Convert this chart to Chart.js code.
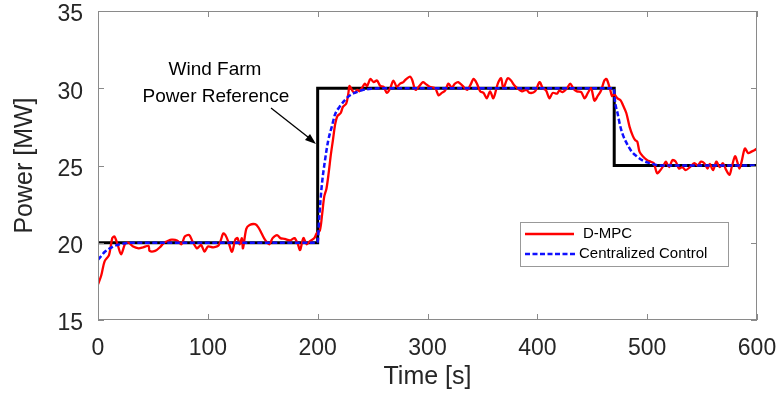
<!DOCTYPE html>
<html>
<head>
<meta charset="utf-8">
<script src="https://cdn.jsdelivr.net/npm/chart.js@4.4.1/dist/chart.umd.min.js"></script>
<style>
    html, body { margin: 0; padding: 0; background: #fff; }
    #wrap { width: 782px; height: 393px; }
</style>
</head>
<body>
<div id="wrap"><canvas id="powerChart" width="782" height="393"></canvas></div>
<script>
// Wind farm power reference (step)
const refTime = [0, 200, 200, 470, 470, 600];
const refPower = [20, 20, 30, 30, 25, 25];

// D-MPC response
const dmpcTime = [0, 3, 6, 10, 13, 15, 18, 21, 25, 28, 32, 37, 41, 46, 47, 52, 57, 60, 63, 67, 72, 76, 79, 83, 86, 90, 92, 94, 97, 100,
    105, 110, 114, 116, 119, 122, 125, 127, 129, 131, 132, 135, 138, 143, 146, 149, 152, 156, 159, 163, 166, 170, 175, 179, 182, 184, 187, 190, 193, 197,
    199, 202, 204, 206, 208, 210, 212, 214, 216, 218, 221, 223, 226, 228, 229, 232, 234, 236, 238, 241, 243, 245, 248, 251, 254, 257, 260, 263, 266, 269,
    272, 275, 278, 280, 284, 286, 289, 292, 296, 298, 302, 307, 310, 313, 316, 319, 322, 325, 328, 332, 336, 339, 342, 345, 348, 351, 354, 357, 360, 364,
    367, 369, 373, 376, 379, 382, 386, 390, 393, 398, 402, 405, 408, 411, 414, 418, 420, 423, 427, 430, 433, 436, 440, 443, 446, 449, 452, 455, 458, 461,
    463, 466, 468, 470, 473, 476, 478, 481, 484, 487, 489, 491, 493, 496, 500, 503, 506, 509, 512, 515, 517, 520, 523, 526, 529, 532, 535, 539, 543, 546,
    549, 552, 555, 557, 560, 563, 566, 569, 572, 575, 577, 580, 582, 584, 586, 589, 592, 595, 598, 600];
const dmpcPower = [17.3, 17.9, 18.8, 19.2, 20.3, 20.4, 19.85, 19.25, 19.97, 20.0, 19.75, 19.64, 19.7, 19.8, 19.47, 19.47, 19.75, 20.0, 20.1, 20.2, 20.15, 19.9, 20.4, 20.5, 20.1, 19.64, 19.75, 19.85, 19.42, 19.75,
    19.7, 19.85, 20.6, 20.5, 20.0, 19.42, 20.2, 20.3, 19.9, 20.3, 19.64, 20.9, 21.15, 21.2, 21.0, 20.6, 20.2, 19.9, 20.3, 20.5, 20.3, 20.25, 20.15, 20.3, 19.9, 19.53, 20.3, 19.9, 20.1, 20.3,
    20.6, 20.8, 21.8, 23.0, 23.5, 24.5, 25.7, 26.7, 27.7, 28.2, 28.4, 28.8, 29.0, 29.7, 30.15, 29.8, 29.7, 29.9, 29.8, 30.1, 30.3, 30.15, 30.6, 30.4, 30.5, 30.15, 30.1, 29.7, 30.0, 30.5,
    30.1, 30.3, 30.4, 30.55, 30.75, 30.55, 29.9, 30.1, 30.4, 30.3, 30.1, 30.0, 29.55, 29.7, 29.85, 30.3, 30.05, 30.3, 30.4, 30.15, 29.9, 30.2, 30.6, 30.3, 29.8, 29.7, 29.35, 29.8, 29.35, 30.3,
    30.65, 30.0, 30.65, 30.5, 30.2, 30.0, 29.8, 29.9, 29.7, 29.8, 30.4, 30.0, 29.85, 29.35, 29.7, 29.65, 29.85, 29.75, 30.0, 30.3, 29.95, 29.8, 29.75, 29.35, 29.7, 30.0, 29.2, 29.5, 29.85, 30.5,
    30.6, 30.0, 29.5, 29.6, 29.35, 29.2, 28.9, 28.4, 27.5, 26.9, 26.65, 26.55, 25.9, 25.6, 25.35, 25.25, 25.15, 24.5, 24.7, 25.0, 25.25, 24.9, 25.35, 25.25, 24.8, 24.9, 24.7, 24.9, 25.15, 25.0,
    25.25, 25.15, 24.8, 25.1, 24.7, 25.25, 24.9, 25.15, 24.7, 24.4, 24.9, 25.6, 25.25, 24.8, 25.25, 26.1, 25.8, 25.9, 26.0, 26.1];

// Centralized control response
const centralTime = [0, 3, 6, 10, 15, 20, 30, 199, 200, 201.5, 203.6, 206.7, 209.7, 212.8, 215.8, 220, 225, 229.5, 235.5, 241.6, 250.7, 260,
    469.4, 471, 473, 475.3, 477.8, 481.3, 485.9, 490.4, 496.5, 502.6, 511.7, 525, 600];
const centralPower = [18.9, 19.15, 19.4, 19.6, 19.8, 19.9, 20, 20, 20.07, 21.7, 23.6, 25.35, 26.65, 27.5, 28.3, 28.8, 29.25, 29.55, 29.75, 29.9, 29.97, 30,
    30, 29.0, 28.4, 27.6, 27.0, 26.45, 25.9, 25.6, 25.3, 25.15, 25.0, 25.0, 25.0];

const xTicks = [0, 100, 200, 300, 400, 500, 600];
const yTicks = [15, 20, 25, 30, 35];

const toPoints = (xs, ys) => xs.map((x, i) => ({ x: x, y: ys[i] }));

const textColor = '#262626';
const axisColor = '#8a8a8a';
const fontName = '"Liberation Sans", Arial, sans-serif';

// Box, inner ticks, legend and annotation
const decorPlugin = {
    id: 'decor',
    afterDraw(chart) {
        const ctx = chart.ctx;
        const a = chart.chartArea;
        const xs = chart.scales.x, ys = chart.scales.y;
        ctx.save();
        ctx.strokeStyle = axisColor;
        ctx.lineWidth = 1;
        ctx.strokeRect(a.left + 0.5, a.top + 0.5, a.right - a.left - 1, a.bottom - a.top - 1);
        const tl = 6;
        ctx.beginPath();
        xTicks.forEach(v => {
            const px = Math.round(xs.getPixelForValue(v)) + 0.5;
            ctx.moveTo(px, a.bottom); ctx.lineTo(px, a.bottom - tl);
            ctx.moveTo(px, a.top); ctx.lineTo(px, a.top + tl);
        });
        yTicks.forEach(v => {
            const py = Math.round(ys.getPixelForValue(v)) + 0.5;
            ctx.moveTo(a.left, py); ctx.lineTo(a.left + tl, py);
            ctx.moveTo(a.right, py); ctx.lineTo(a.right - tl, py);
        });
        ctx.stroke();

        // legend
        ctx.fillStyle = '#fff';
        ctx.fillRect(520, 222, 209, 45);
        ctx.strokeStyle = '#999';
        ctx.strokeRect(520.5, 222.5, 208, 44);
        ctx.lineWidth = 2.3;
        ctx.strokeStyle = '#ff0000';
        ctx.beginPath(); ctx.moveTo(525, 234); ctx.lineTo(574, 234); ctx.stroke();
        ctx.strokeStyle = '#1010ff';
        ctx.setLineDash([5, 2.5]);
        ctx.beginPath(); ctx.moveTo(525, 254); ctx.lineTo(577, 254); ctx.stroke();
        ctx.setLineDash([]);
        ctx.fillStyle = '#000';
        ctx.font = '15px ' + fontName;
        ctx.textBaseline = 'middle';
        ctx.textAlign = 'left';
        ctx.fillText('D-MPC', 583, 234);
        ctx.fillText('Centralized Control', 579, 254);

        // annotation
        ctx.font = '19px ' + fontName;
        ctx.textAlign = 'center';
        ctx.fillText('Wind Farm', 215, 70);
        ctx.fillText('Power Reference', 216, 97);
        ctx.strokeStyle = '#000';
        ctx.lineWidth = 1.3;
        ctx.beginPath(); ctx.moveTo(271, 108); ctx.lineTo(313, 141); ctx.stroke();
        ctx.beginPath();
        ctx.moveTo(316, 144); ctx.lineTo(305, 140); ctx.lineTo(310, 134); ctx.closePath();
        ctx.fill();
        ctx.restore();
    }
};

const ctx = document.getElementById('powerChart').getContext('2d');
const powerChart = new Chart(ctx, {
    type: 'line',
    data: {
        datasets: [{
            label: 'Centralized Control',
            data: toPoints(centralTime, centralPower),
            borderColor: '#1010ff',
            borderWidth: 2.5,
            borderDash: [5, 2.5],
            pointRadius: 0,
            cubicInterpolationMode: 'monotone',
            fill: false,
            order: 1
        }, {
            label: 'D-MPC',
            data: toPoints(dmpcTime, dmpcPower),
            borderColor: '#ff0000',
            borderWidth: 2.3,
            pointRadius: 0,
            tension: 0.3,
            fill: false,
            order: 2
        }, {
            label: 'Wind Farm Power Reference',
            data: toPoints(refTime, refPower),
            borderColor: '#000000',
            borderWidth: 3,
            pointRadius: 0,
            tension: 0,
            fill: false,
            order: 3
        }]
    },
    options: {
        responsive: false,
        animation: false,
        layout: { padding: { top: 11, right: 25, left: 0, bottom: 0 } },
        plugins: {
            legend: { display: false },
            tooltip: { enabled: false }
        },
        scales: {
            x: {
                type: 'linear',
                min: 0,
                max: 600,
                afterFit: s => { s.height = 73; s.paddingLeft = 0; s.paddingRight = 0; },
                afterBuildTicks: s => { s.ticks = xTicks.map(v => ({ value: v })); },
                grid: { display: false, drawTicks: false },
                border: { display: false },
                ticks: { color: textColor, padding: 15, maxRotation: 0, font: { family: fontName, size: 23 } },
                title: { display: true, text: 'Time [s]', color: textColor, padding: { top: 0, bottom: 1 }, font: { family: fontName, size: 25 } }
            },
            y: {
                min: 15,
                max: 35,
                afterFit: s => { s.width = 98; s.paddingTop = 0; s.paddingBottom = 0; },
                afterBuildTicks: s => { s.ticks = yTicks.map(v => ({ value: v })); },
                grid: { display: false, drawTicks: false },
                border: { display: false },
                ticks: { color: textColor, padding: 15, labelOffset: 4, font: { family: fontName, size: 23 } },
                title: { display: true, text: 'Power [MW]', color: textColor, padding: { top: 10, bottom: 0 }, font: { family: fontName, size: 25 } }
            }
        }
    },
    plugins: [decorPlugin]
});
</script>
</body>
</html>
